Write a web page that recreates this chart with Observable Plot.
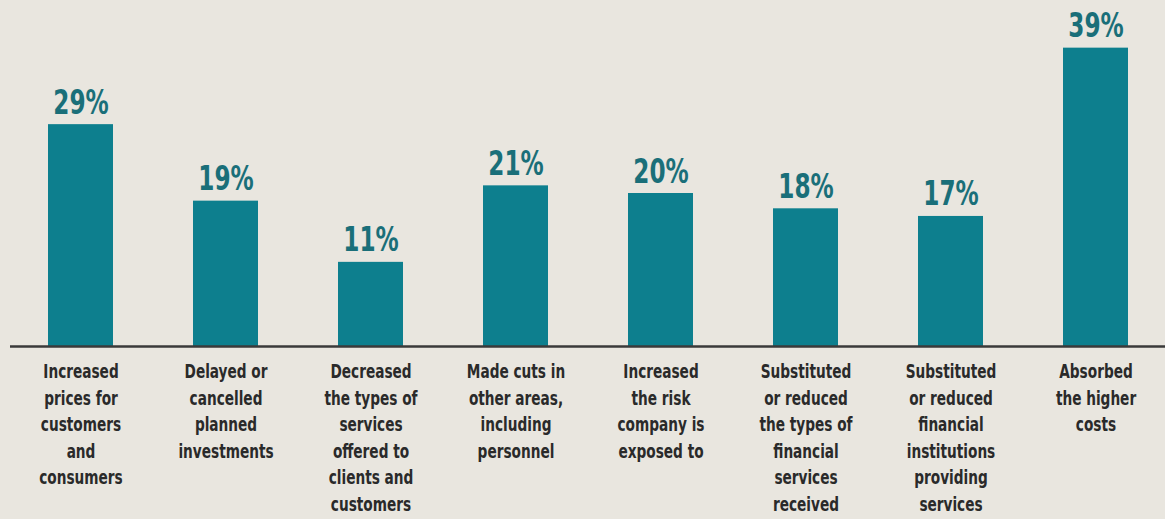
<!DOCTYPE html>
<html>
<head>
<meta charset="utf-8">
<script src="https://cdn.jsdelivr.net/npm/d3@7"></script>
<script src="https://cdn.jsdelivr.net/npm/@observablehq/plot@0.6"></script>
<style>
  html, body { margin: 0; padding: 0; background: #e9e6df; }
  #chart svg { display: block; }
</style>
</head>
<body>
<div id="chart"></div>
<script>
const categories = [
  "Increased\nprices for\ncustomers\nand\nconsumers",
  "Delayed or\ncancelled\nplanned\ninvestments",
  "Decreased\nthe types of\nservices\noffered to\nclients and\ncustomers",
  "Made cuts in\nother areas,\nincluding\npersonnel",
  "Increased\nthe risk\ncompany is\nexposed to",
  "Substituted\nor reduced\nthe types of\nfinancial\nservices\nreceived",
  "Substituted\nor reduced\nfinancial\ninstitutions\nproviding\nservices",
  "Absorbed\nthe higher\ncosts"
];
const values = [29, 19, 11, 21, 20, 18, 17, 39];

const data = categories.map((c, i) => ({category: c, value: values[i]}));
const font = "'DejaVu Sans Condensed', 'DejaVu Sans', sans-serif";

const chart = Plot.plot({
  width: 1165,
  height: 519,
  marginLeft: 18,
  marginRight: 6,
  marginTop: 40,
  marginBottom: 173,
  style: {background: "#e9e6df", fontFamily: font},
  x: {domain: categories, paddingInner: 0.55, paddingOuter: 0.2, axis: null},
  y: {domain: [0, 40], axis: null},
  marks: [
    Plot.barY(data, {x: "category", y: "value", fill: "#0d7f8e"}),
    Plot.ruleY([0], {stroke: "#3a3a3a", strokeWidth: 2.5, insetLeft: -8, insetRight: -6}),
    Plot.text(data, {
      x: "category", y: "value", text: d => d.value + "%",
      dy: -11, lineAnchor: "bottom", fill: "#1a6f79",
      fontSize: 33, fontWeight: "bold", fontFamily: font
    }),
    Plot.text(data, {
      x: "category", y: () => 0, text: "category",
      dy: 13, lineAnchor: "top", lineHeight: 1.36, fill: "#2a2a2a",
      fontSize: 19.5, fontWeight: "bold", fontFamily: font
    })
  ]
});
// narrow the type to match the condensed face of the original
d3.select(chart).selectAll("g[aria-label='text'] text").each(function() {
  const t = this.getAttribute("transform") || "";
  this.setAttribute("transform", t + " scale(0.78,1)");
});
document.getElementById("chart").append(chart);
</script>
</body>
</html>
